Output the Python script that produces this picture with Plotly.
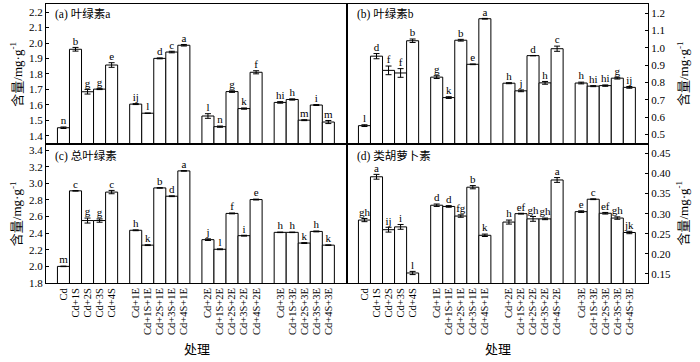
import plotly.graph_objects as go
from plotly.subplots import make_subplots

categories = ["Cd", "Cd+1S", "Cd+2S", "Cd+3S", "Cd+4S",
              "Cd+1E", "Cd+1S+1E", "Cd+2S+1E", "Cd+3S+1E", "Cd+4S+1E",
              "Cd+2E", "Cd+1S+2E", "Cd+2S+2E", "Cd+3S+2E", "Cd+4S+2E",
              "Cd+3E", "Cd+1S+3E", "Cd+2S+3E", "Cd+3S+3E", "Cd+4S+3E"]

chla = [1.452, 1.960, 1.685, 1.702, 1.858,
        1.605, 1.546, 1.901, 1.942, 1.986,
        1.528, 1.459, 1.686, 1.576, 1.811,
        1.616, 1.635, 1.501, 1.599, 1.489]
chla_err = [0.005, 0.012, 0.015, 0.003, 0.015,
            0.003, 0.001, 0.003, 0.005, 0.005,
            0.015, 0.004, 0.005, 0.004, 0.010,
            0.005, 0.004, 0.003, 0.003, 0.010]
chla_sig = ["n", "b", "g", "g", "e", "ij", "l", "d", "c", "a",
            "l", "n", "g", "k", "f", "hi", "h", "m", "i", "m"]

chlb = [0.551, 0.952, 0.870, 0.855, 1.041,
        0.831, 0.713, 1.044, 0.905, 1.168,
        0.796, 0.752, 0.955, 0.798, 0.995,
        0.797, 0.779, 0.782, 0.825, 0.772]
chlb_err = [0.005, 0.015, 0.025, 0.025, 0.010,
            0.008, 0.005, 0.005, 0.002, 0.002,
            0.003, 0.005, 0.001, 0.008, 0.015,
            0.005, 0.003, 0.004, 0.005, 0.005]
chlb_sig = ["l", "d", "f", "f", "b", "g", "k", "b", "e", "a",
            "h", "j", "d", "h", "c", "h", "hi", "hi", "g", "ij"]

chlt = [2.000, 2.910, 2.552, 2.552, 2.895,
        2.435, 2.256, 2.945, 2.845, 3.150,
        2.322, 2.206, 2.638, 2.370, 2.805,
        2.410, 2.410, 2.281, 2.421, 2.256]
chlt_err = [0.003, 0.003, 0.030, 0.020, 0.020,
            0.005, 0.005, 0.003, 0.005, 0.003,
            0.010, 0.005, 0.005, 0.005, 0.005,
            0.003, 0.003, 0.005, 0.005, 0.003]
chlt_sig = ["m", "c", "g", "g", "c", "h", "k", "b", "d", "a",
            "j", "l", "f", "i", "e", "h", "h", "k", "h", "k"]

car = [0.284, 0.392, 0.260, 0.267, 0.152,
       0.321, 0.318, 0.294, 0.366, 0.246,
       0.279, 0.300, 0.287, 0.287, 0.384,
       0.305, 0.336, 0.301, 0.289, 0.253]
car_err = [0.004, 0.006, 0.006, 0.006, 0.004,
           0.003, 0.002, 0.003, 0.004, 0.003,
           0.005, 0.001, 0.006, 0.002, 0.006,
           0.002, 0.001, 0.002, 0.003, 0.003]
car_sig = ["gh", "a", "ij", "i", "l", "d", "d", "fg", "b", "k",
           "h", "ef", "gh", "gh", "a", "e", "c", "ef", "gh", "jk"]

panel_titles = ["(a) 叶绿素a", "(b) 叶绿素b", "(c) 总叶绿素", "(d) 类胡萝卜素"]
y_title = "含量/mg·g<sup>-1</sup>"
x_title = "处理"

FONT = "Liberation Serif, Noto Sans CJK SC, serif"

xpos = [i + i // 5 for i in range(len(categories))]

fig = make_subplots(rows=2, cols=2, horizontal_spacing=0, vertical_spacing=0)

panels = [
    (chla, chla_err, chla_sig, 1, 1, [1.35, 2.253], 0.1, ".1f"),
    (chlb, chlb_err, chlb_sig, 1, 2, [0.448, 1.253], 0.1, ".1f"),
    (chlt, chlt_err, chlt_sig, 2, 1, [1.8, 3.48], 0.2, ".1f"),
    (car, car_err, car_sig, 2, 2, [0.127, 0.475], 0.05, ".2f"),
]

for vals, errs, sigs, r, c, rng, dt, fmt in panels:
    fig.add_trace(go.Bar(
        x=xpos, y=vals, width=1,
        marker=dict(color="white", line=dict(color="black", width=1)),
        error_y=dict(type="data", array=errs, color="black", thickness=1, width=3),
        showlegend=False, hoverinfo="skip",
    ), row=r, col=c)
    fig.add_trace(go.Scatter(
        x=xpos, y=[v + e for v, e in zip(vals, errs)],
        mode="text", text=sigs, textposition="top center",
        textfont=dict(family=FONT, size=11, color="black"),
        showlegend=False, cliponaxis=False, hoverinfo="skip",
    ), row=r, col=c)
    fig.update_yaxes(range=rng, dtick=dt, tick0=0, tickformat=fmt,
                     ticks="inside", ticklen=3, tickcolor="black",
                     showline=True, linecolor="black", linewidth=1, mirror=True,
                     showgrid=False, zeroline=False,
                     side="right" if c == 2 else "left",
                     tickfont=dict(family=FONT, size=11, color="black"),
                     row=r, col=c)
    fig.update_xaxes(range=[-1.45, 23.55], showline=True, linecolor="black",
                     linewidth=1, mirror=True, showgrid=False, zeroline=False,
                     ticks="", tickmode="array", tickvals=xpos,
                     ticktext=categories if r == 2 else None,
                     showticklabels=(r == 2), tickangle=-90,
                     tickfont=dict(family=FONT, size=10.5, color="black"),
                     row=r, col=c)

# panel labels
label_pos = [(0.012, 0.965), (0.513, 0.965), (0.012, 0.455), (0.513, 0.455)]
for txt, (px, py) in zip(panel_titles, label_pos):
    fig.add_annotation(x=px, y=py, xref="paper", yref="paper", text=txt,
                       showarrow=False, xanchor="left", yanchor="middle",
                       font=dict(family=FONT, size=11.5, color="black"))

# y titles
for px, py in [(-0.05, 0.75), (-0.05, 0.25), (1.057, 0.75), (1.057, 0.25)]:
    fig.add_annotation(x=px, y=py, xref="paper", yref="paper", text=y_title,
                       showarrow=False, textangle=-90, xanchor="center", yanchor="middle",
                       font=dict(family=FONT, size=13, color="black"))

# x titles
for px in [0.25, 0.75]:
    fig.add_annotation(x=px, y=-0.24, xref="paper", yref="paper", text=x_title,
                       showarrow=False, xanchor="center", yanchor="middle",
                       font=dict(family=FONT, size=13, color="black"))

fig.update_layout(width=700, height=362, margin=dict(l=46, r=52, t=4, b=79),
                  plot_bgcolor="white", paper_bgcolor="white",
                  bargap=0, hovermode=False, font=dict(family=FONT, color="black"))

fig.write_html("out.html", config={"displayModeBar": False, "staticPlot": True},
               post_script="document.body.style.margin='0px';document.body.style.padding='0px';")
